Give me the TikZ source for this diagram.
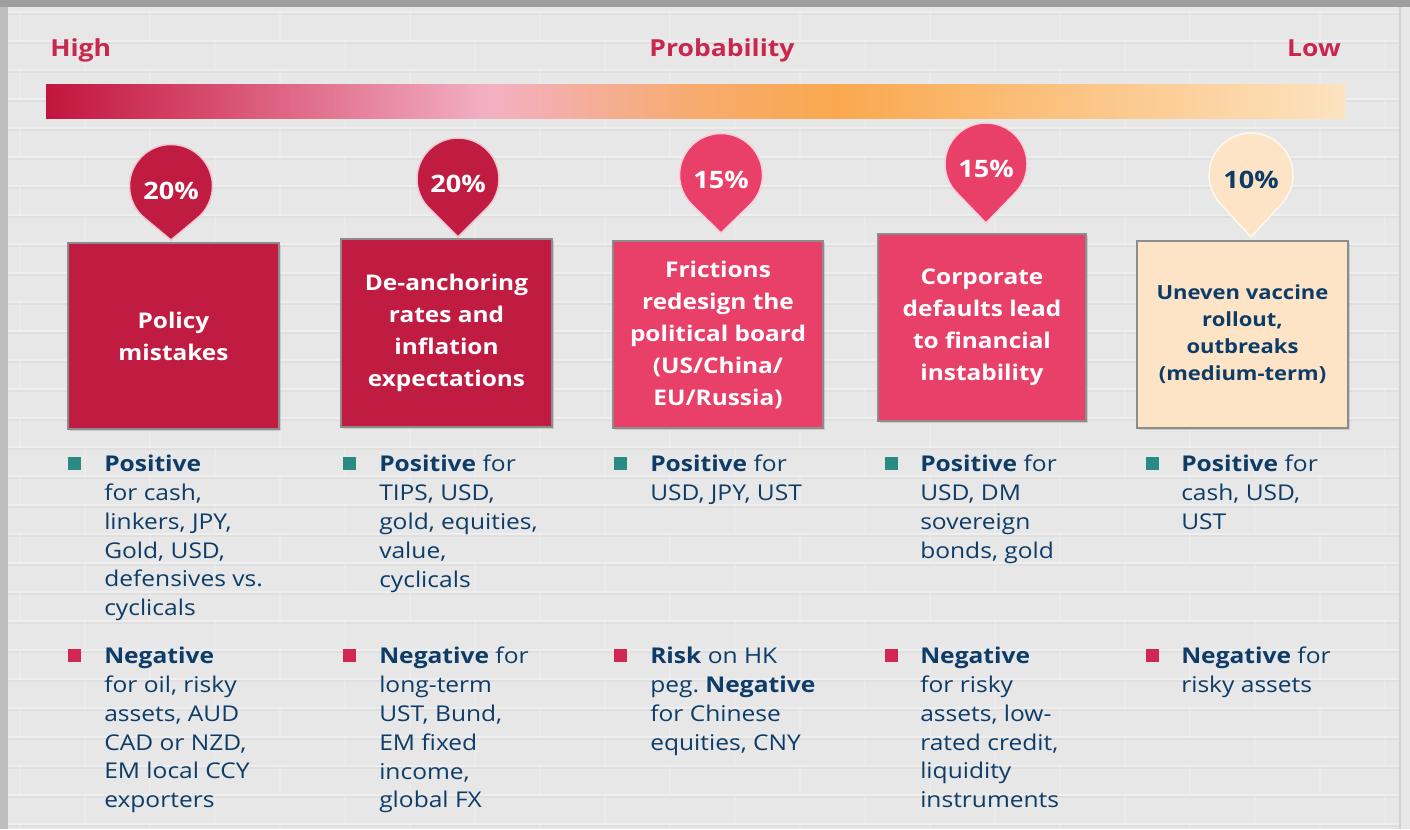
\documentclass[tikz,border=0pt]{standalone}
\usepackage{fontspec}
\setmainfont{Open Sans}[FakeStretch=1.13]
\usetikzlibrary{calc,shadows}
\frenchspacing

% palette
\definecolor{crimson}{RGB}{192,28,66}
\definecolor{rose}{RGB}{233,64,106}
\definecolor{peach}{RGB}{253,228,199}
\definecolor{navy}{RGB}{14,60,104}
\definecolor{headred}{RGB}{200,40,78}
\definecolor{tealsq}{RGB}{42,138,132}
\definecolor{redsq}{RGB}{208,40,80}
\definecolor{wall}{RGB}{231,231,231}
\definecolor{frame}{RGB}{190,190,190}

% probability scale: deep red -> pink -> orange -> pale peach
% (the path is mapped onto the 25bp..75bp band of the shading)
\pgfdeclarehorizontalshading{probbar}{100bp}{%
  rgb(0bp)=(0.76,0.08,0.24);
  rgb(25bp)=(0.76,0.08,0.24);
  rgb(32bp)=(0.85,0.32,0.45);
  rgb(42bp)=(0.95,0.69,0.77);
  rgb(50bp)=(0.97,0.67,0.43);
  rgb(55.5bp)=(0.98,0.66,0.31);
  rgb(75bp)=(0.99,0.89,0.75);
  rgb(100bp)=(0.99,0.89,0.75)}

\newlength\pxu
\setlength\pxu{0.75pt}

% teardrop marker: name, cx, cy, radius, tip distance, fill, text colour, label
\newcommand\droppin[8]{%
  \pgfmathsetmacro\tang{acos(#4/#5)}%
  \filldraw[fill=#6, draw=white!75!#6, line width=1.1pt]
    (#2,#3+#5) -- ($(#2,#3)+(90-\tang:#4)$)
    arc[start angle=90-\tang, end angle=90+\tang-360, radius=#4] -- cycle;
  \node[pinlabel, text=#7] (#1) at (#2,#3+5) {#8};
}

\begin{document}
\begin{tikzpicture}[x=0.75pt, y=-0.75pt,
  heading/.style={inner sep=0, text=headred, font=\bfseries\fontsize{17.6}{20}\selectfont},
  pinlabel/.style={inner sep=0, font=\bfseries\fontsize{18}{20}\selectfont},
  riskbox/.style={draw=black!45, line width=0.9pt, align=center, inner sep=0,
    font=\bfseries\fontsize{16.2}{24}\selectfont,
    drop shadow={opacity=0.28, shadow xshift=1.2pt, shadow yshift=-1.5pt}},
  bul/.style={anchor=north west, inner sep=0, align=left, text=navy,
    font=\fontsize{16.3}{21.6}\selectfont},
  sq/.style={minimum size=13\pxu, inner sep=0}]

\useasboundingbox (0,0) rectangle (1410,829);

% wall and frame
\fill[frame] (0,0) rectangle (1410,829);
\fill[black!38] (0,0) rectangle (1410,7);
\fill[wall] (7,7) rectangle (1410,829);
\draw[black!25, line width=1pt] (7.5,7) -- (7.5,829);
\draw[black!18, line width=1pt] (1400,7) -- (1400,829);

% brick courses
\foreach \r in {0,...,28} {
  \pgfmathsetmacro\yy{12+29*\r}
  \draw[white, opacity=0.3, line width=1.6pt] (8,\yy) -- (1399,\yy);
  \draw[black, opacity=0.03, line width=1pt] (8,\yy+2) -- (1399,\yy+2);
  \pgfmathsetmacro\off{mod(\r,2)*65}
  \foreach \c in {0,...,11} {
    \pgfmathsetmacro\xx{20+\off+130*\c}
    \draw[white, opacity=0.2, line width=1.4pt] (\xx,\yy) -- (\xx,\yy+29);
  }
}

% probability scale
\node[heading, anchor=base west] (high) at (50,56) {High};
\node[heading, anchor=base] (prob) at (722,56) {Probability};
\node[heading, anchor=base east] (low) at (1341,56) {Low};
\fill[shading=probbar] (46,84) rectangle (1345,118);

% risk boxes
\node[riskbox, fill=crimson, text=white, minimum width=211\pxu, minimum height=186\pxu]
  (b1) at (173.5,336) {Policy\\mistakes};
\node[riskbox, fill=crimson, text=white, minimum width=211\pxu, minimum height=188\pxu]
  (b2) at (446.5,333) {De-anchoring\\rates and\\inflation\\expectations};
\node[riskbox, fill=rose, text=white, minimum width=210\pxu, minimum height=187\pxu]
  (b3) at (718,334.5) {Frictions\\redesign the\\political board\\(US/China/\\EU/Russia)};
\node[riskbox, fill=rose, text=white, minimum width=208\pxu, minimum height=187\pxu]
  (b4) at (982,327.5) {Corporate\\defaults lead\\to financial\\instability};
\node[riskbox, fill=peach, text=navy, minimum width=211\pxu, minimum height=187\pxu,
  font=\bfseries\fontsize{14.6}{20.3}\selectfont]
  (b5) at (1242.5,334.5) {Uneven vaccine\\rollout,\\outbreaks\\(medium-term)};

% probability markers
\droppin{p1}{171}{186}{41.5}{54}{crimson}{white}{20\%}
\droppin{p2}{458}{179}{41}{58}{crimson}{white}{20\%}
\droppin{p3}{721}{175}{41.5}{58}{rose}{white}{15\%}
\droppin{p4}{986}{164}{41}{59}{rose}{white}{15\%}
\droppin{p5}{1251}{175}{42}{62}{peach}{navy}{10\%}

% impact bullets: column 1
\node[sq, fill=tealsq] (s1p) at (74.5,463.5) {};
\node[bul] (t1p) at (104,455) {\textbf{Positive}\\for cash,\\linkers, JPY,\\Gold, USD,\\defensives vs.\\cyclicals};
\node[sq, fill=redsq] (s1n) at (74.5,655) {};
\node[bul] (t1n) at (104,647) {\textbf{Negative}\\for oil, risky\\assets, AUD\\CAD or NZD,\\EM local CCY\\exporters};

% column 2
\node[sq, fill=tealsq] (s2p) at (349.5,463.5) {};
\node[bul] (t2p) at (379,455) {\textbf{Positive} for\\TIPS, USD,\\gold, equities,\\value,\\cyclicals};
\node[sq, fill=redsq] (s2n) at (349.5,655) {};
\node[bul] (t2n) at (379,647) {\textbf{Negative} for\\long-term\\UST, Bund,\\EM fixed\\income,\\global FX};

% column 3
\node[sq, fill=tealsq] (s3p) at (620,463.5) {};
\node[bul] (t3p) at (650,455) {\textbf{Positive} for\\USD, JPY, UST};
\node[sq, fill=redsq] (s3n) at (620,655) {};
\node[bul] (t3n) at (650,647) {\textbf{Risk} on HK\\peg. \textbf{Negative}\\for Chinese\\equities, CNY};

% column 4
\node[sq, fill=tealsq] (s4p) at (891,463.5) {};
\node[bul] (t4p) at (920,455) {\textbf{Positive} for\\USD, DM\\sovereign\\bonds, gold};
\node[sq, fill=redsq] (s4n) at (891,655) {};
\node[bul] (t4n) at (920,647) {\textbf{Negative}\\for risky\\assets, low-\\rated credit,\\liquidity\\instruments};

% column 5
\node[sq, fill=tealsq] (s5p) at (1152.5,463.5) {};
\node[bul] (t5p) at (1181,455) {\textbf{Positive} for\\cash, USD,\\UST};
\node[sq, fill=redsq] (s5n) at (1152.5,655) {};
\node[bul] (t5n) at (1181,647) {\textbf{Negative} for\\risky assets};

\end{tikzpicture}
\end{document}
